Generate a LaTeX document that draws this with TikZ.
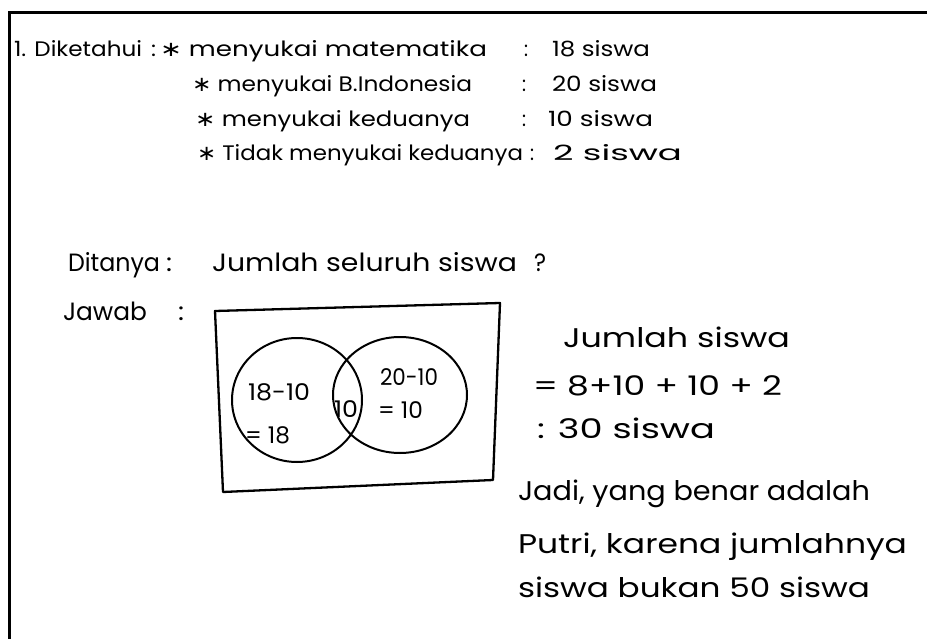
\documentclass[tikz,border=0pt]{standalone}
\usepackage{fontspec}
\usepackage{graphicx}
\setmainfont{Poppins}
\newfontfamily\dvs{DejaVu Sans}
\newcommand\fw[2]{\resizebox{#1pt}{\height}{#2}}
\newcommand\hwast{{\dvs ∗}}
\tikzset{
  tx/.style={anchor=base west, inner sep=0pt, outer sep=0pt},
  small/.style={tx, font=\fontsize{21}{24}\selectfont},
  mid/.style={tx, font=\fontsize{25}{28}\selectfont},
  big/.style={tx, font=\fontsize{27}{30}\selectfont},
  venn/.style={tx, font=\fontsize{23}{26}\selectfont},
  pen/.style={line width=2pt, line cap=round, line join=round},
}
\begin{document}
\begin{tikzpicture}[x=1pt,y=-1pt]
\useasboundingbox (0,0) rectangle (927,639);
% outer frame (top and left edges)
\draw[line width=3pt] (9,639) -- (9,13) -- (927,13);
% Diketahui block
\node[small] (k1) at (14,57) {\fw{128}{1. Diketahui}};
\node[small] (k1c) at (151,57) {\fw{5}{:}};
\node[small] (a1) at (160,57) {\fw{327}{\hwast\ menyukai matematika}};
\node[small] (a1c) at (524,57) {\fw{4}{:}};
\node[small] (a1v) at (552,57) {\fw{98}{18 siswa}};
\node[small] (a2) at (192,92) {\fw{280}{\hwast\ menyukai B.Indonesia}};
\node[small] (a2c) at (522,92) {\fw{4}{:}};
\node[small] (a2v) at (552,92) {\fw{105}{20 siswa}};
\node[small] (a3) at (195,127) {\fw{275}{\hwast\ menyukai keduanya}};
\node[small] (a3c) at (522,127) {\fw{4}{:}};
\node[small] (a3v) at (548,127) {\fw{105}{10 siswa}};
\node[small] (a4) at (197,161) {\fw{326}{\hwast\ Tidak menyukai keduanya}};
\node[small] (a4c) at (530,161) {\fw{4}{:}};
\node[small] (a4v) at (553,161) {\fw{129}{2 siswa}};
% Ditanya / Jawab
\node[mid] (d1) at (68,272) {\fw{92}{Ditanya}};
\node[mid] (d1c) at (166,272) {\fw{6}{:}};
\node[mid] (d2) at (212,272) {\fw{305}{Jumlah seluruh siswa}};
\node[mid] (d3) at (534,272) {\fw{12}{?}};
\node[mid] (j1) at (63,320) {\fw{84}{Jawab}};
\node[mid] (j1c) at (178,320) {\fw{6}{:}};
% Venn diagram
\draw[line width=2.3pt, line join=round] (215,311) -- (500,303) -- (493,480) -- (223,492) -- cycle;
\draw[pen] (297,400) ellipse [x radius=65, y radius=62];
\draw[pen] (400,395) ellipse [x radius=67, y radius=58];
\node[venn] (v1) at (248,400) {\fw{62}{18-10}};
\node[venn] (v2) at (245,443) {\fw{45}{= 18}};
\node[venn] (v3) at (334,417) {\fw{24}{10}};
\node[venn] (v4) at (380,385) {\fw{58}{20-10}};
\node[venn] (v5) at (378,418) {\fw{45}{= 10}};
% Right side computation
\node[big] (r1) at (563,347) {\fw{227}{Jumlah siswa}};
\node[big] (r2) at (533,395) {\fw{249}{= 8+10 + 10 + 2}};
\node[big] (r3) at (537,438) {\fw{178}{: 30 siswa}};
\node[big] (r4) at (518,500) {\fw{352}{Jadi, yang benar adalah}};
\node[big] (r5) at (518,553) {\fw{389}{Putri, karena jumlahnya}};
\node[big] (r6) at (518,597) {\fw{352}{siswa bukan 50 siswa}};
\end{tikzpicture}
\end{document}
